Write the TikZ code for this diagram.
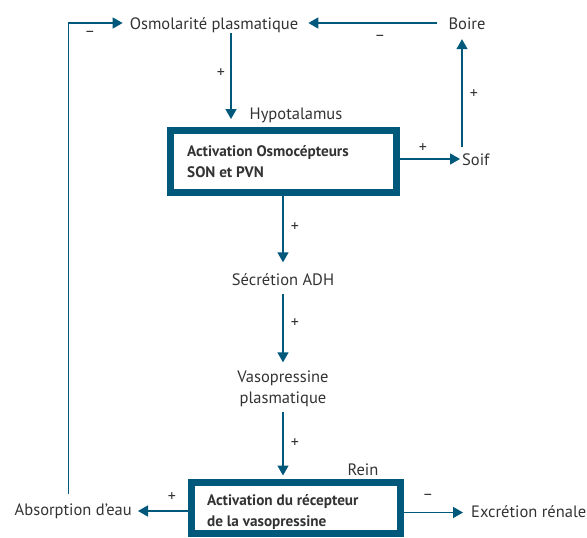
\documentclass[tikz,border=0pt]{standalone}
\usepackage{fontspec}
\setmainfont{PT Sans}
\usetikzlibrary{arrows.meta}
\definecolor{dteal}{HTML}{00587A}
\definecolor{txt}{HTML}{333333}
\begin{document}
\begin{tikzpicture}[x=1pt,y=-1pt,
  lbl/.style={font=\fontsize{16.5}{21}\selectfont, text=txt, inner sep=0pt, text height=11.5pt, text depth=3.5pt},
  lbl2/.style={font=\fontsize{16.5}{21}\selectfont, text=txt, inner sep=0pt, align=center},
  btxt/.style={font=\bfseries\fontsize{15.2}{21}\selectfont, text=txt, inner sep=0pt, align=left},
  sgn/.style={font=\fontsize{16}{18}\selectfont, text=txt, inner sep=0pt},
  arr/.style={draw=dteal, line width=1.4pt, -{Triangle[length=10pt,width=11pt]}},
  boxs/.style={draw=dteal, line width=7pt, fill=white, inner sep=0pt}]
\useasboundingbox (0,0) rectangle (587,538);

% text nodes
\node[lbl, anchor=base] (osmo) at (214,29) {Osmolarité plasmatique};
\node[lbl, anchor=base] (boire) at (467,29) {Boire};
\node[lbl, anchor=base] (hypo) at (296,119) {Hypotalamus};
\node[lbl, anchor=base west] (soif) at (462,165) {Soif};
\node[lbl, anchor=base] (sec) at (283,285) {Sécrétion ADH};
\node[lbl2] (vaso) at (283,389) {Vasopressine\\plasmatique};
\node[lbl, anchor=base] (rein) at (363,475) {Rein};
\node[lbl, anchor=base east] (absorb) at (132,515) {Absorption d’eau};
\node[lbl, anchor=base west] (excr) at (471,517) {Excrétion rénale};

% boxes
\node[boxs, minimum width=226pt, minimum height=62pt] (b1) at (283,161.5) {};
\node[btxt, anchor=west] (b1t) at (187,162) {Activation Osmocépteurs\\SON et PVN};
\node[boxs, minimum width=209pt, minimum height=51pt] (b2) at (296,508) {};
\node[btxt, anchor=west] (b2t) at (207,512) {Activation du récepteur\\de la vasopressine};

% connectors
\draw[arr, shorten <=0.5pt, shorten >=8pt] ([xshift=17pt]osmo.south) -- ([xshift=17pt]osmo.south |- b1.north);
\draw[arr, shorten <=11pt, shorten >=10pt] ([yshift=2pt]boire.west) -- ([yshift=2pt]osmo.west -| osmo.east);
\draw[arr, shorten <=9pt, shorten >=7pt] ([xshift=54pt]absorb.north west) |- ([yshift=2pt]osmo.west);
\draw[arr, shorten >=2pt] ([yshift=2pt]soif.west -| b1.east) -- ([yshift=2pt]soif.west);
\draw[arr, shorten <=6pt, shorten >=6.5pt] (soif.north west) -- (soif.north west |- boire.south);
\draw[arr, shorten >=11pt] (b1.south) -- (b1.south |- sec.north);
\draw[arr, shorten <=5.5pt, shorten >=8.5pt] (sec.south) -- (sec.south |- vaso.north);
\draw[arr, shorten <=4.5pt, shorten >=3.5pt] (vaso.south) -- (vaso.south |- b2.north);
\draw[arr, shorten >=6pt] (absorb.east -| b2.west) -- (absorb.east);
\draw[arr, shorten >=8pt] ([yshift=0.5pt]excr.west -| b2.east) -- ([yshift=0.5pt]excr.west);

% signs
\node[sgn] (s1) at (90,34) {–};
\node[sgn] (s2) at (380,38) {–};
\node[sgn] (s3) at (221,73) {+};
\node[sgn] (s4) at (423,148) {+};
\node[sgn] (s5) at (474,94) {+};
\node[sgn] (s6) at (295,227) {+};
\node[sgn] (s7) at (295,323) {+};
\node[sgn] (s8) at (295,443) {+};
\node[sgn] (s9) at (172,497) {+};
\node[sgn] (s10) at (428,497) {–};
\end{tikzpicture}
\end{document}
